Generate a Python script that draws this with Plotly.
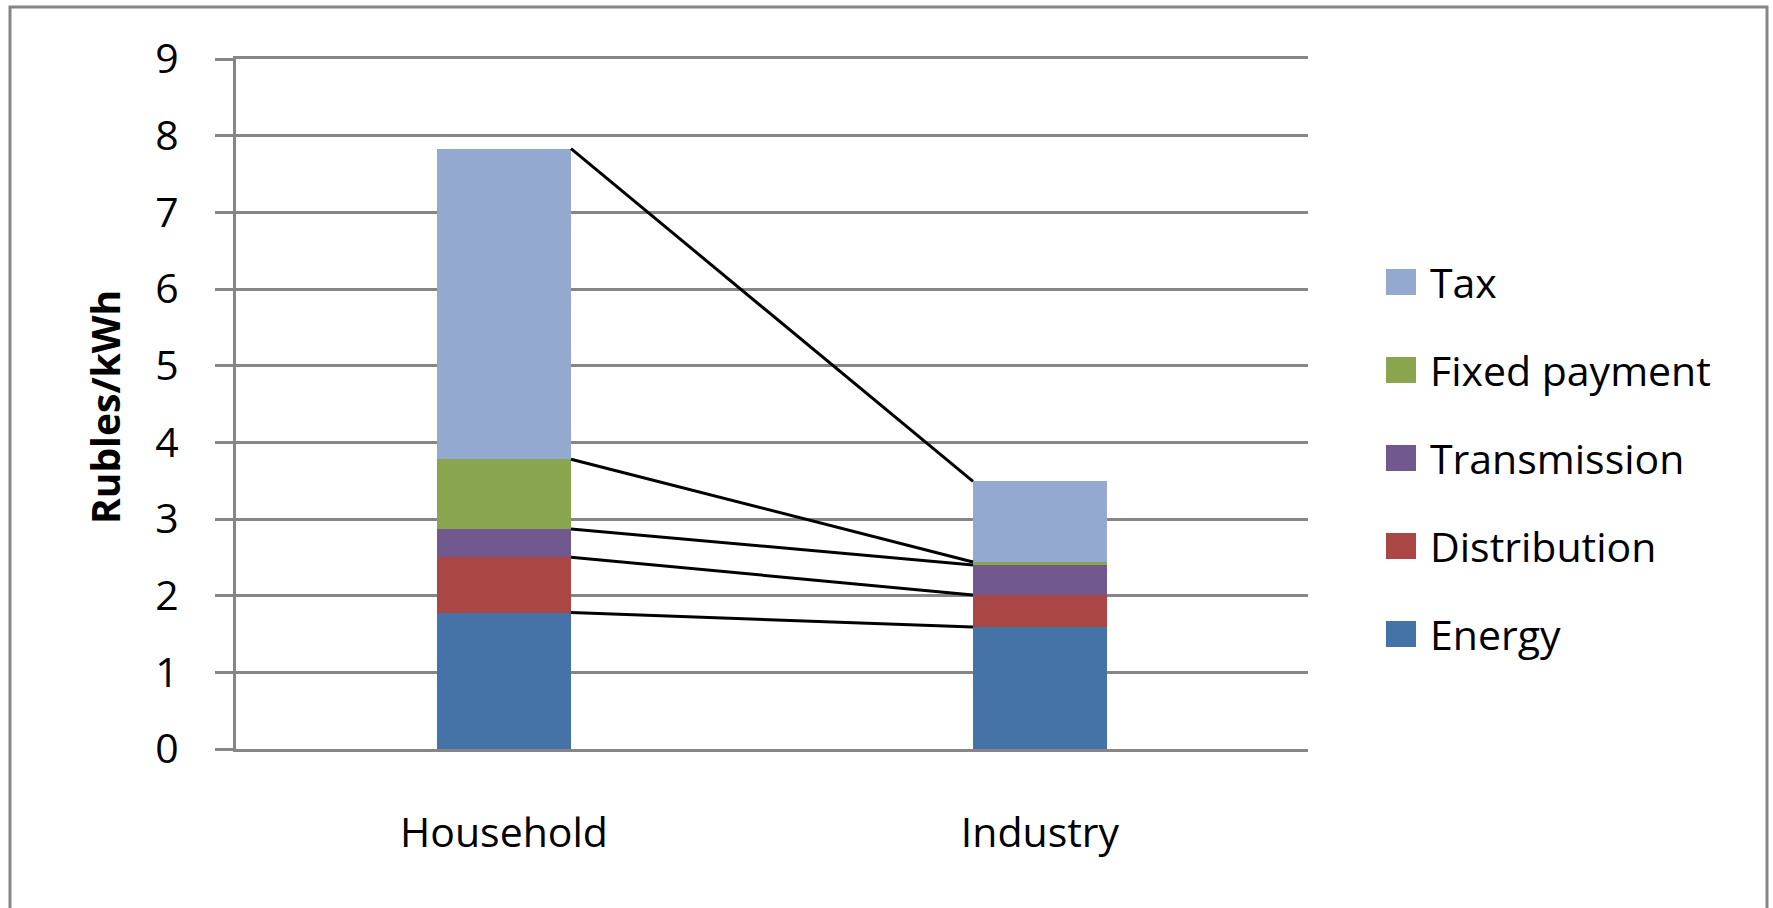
import plotly.graph_objects as go
import numpy as np

categories = ["Household", "Industry"]
series_names = ["Energy", "Distribution", "Transmission", "Fixed payment", "Tax"]
energy = [1.78, 1.59]
distribution = [0.72, 0.42]
transmission = [0.37, 0.39]
fixed_payment = [0.91, 0.04]
tax = [4.05, 1.05]
colors = ["#4572A7", "#AA4643", "#71588F", "#89A54E", "#93A9CF"]
y_ticks = [0, 1, 2, 3, 4, 5, 6, 7, 8, 9]

series_values = [energy, distribution, transmission, fixed_payment, tax]

W, H = 1773, 908
L, R, T, B = 236, 465, 59, 159
PW, PH = W - L - R, H - T - B

def px_x(p):
    return (p - L) / PW

def px_y(p):
    return (H - B - p) / PH

FONT = "Open Sans"
GRID = "#868686"
BAR_W = 0.25
xpos = list(range(len(categories)))

fig = go.Figure()
for name, vals, col in zip(series_names, series_values, colors):
    fig.add_trace(go.Bar(x=xpos, y=vals, name=name, width=BAR_W,
                         marker=dict(color=col, line=dict(width=0)),
                         showlegend=False))

# connector lines between stack tops
cum = np.cumsum(np.array(series_values), axis=0)
for k in range(cum.shape[0]):
    fig.add_trace(go.Scatter(x=[xpos[0] + BAR_W / 2, xpos[1] - BAR_W / 2],
                             y=[cum[k, 0], cum[k, 1]], mode="lines",
                             line=dict(color="black", width=3),
                             showlegend=False, hoverinfo="skip"))

shapes = []
annotations = []
# outer chart frame (bottom edge off-page)
shapes.append(dict(type="rect", xref="paper", yref="paper",
                   x0=px_x(10), x1=px_x(1767), y0=px_y(H + 20), y1=px_y(7),
                   line=dict(color=GRID, width=3), fillcolor="rgba(0,0,0,0)", layer="below"))

# legend (reversed order: Tax on top)
leg_y0, leg_dy = 282, 88
for i, (name, col) in enumerate(zip(series_names[::-1], colors[::-1])):
    cy = leg_y0 + i * leg_dy
    shapes.append(dict(type="rect", xref="paper", yref="paper",
                       x0=px_x(1386), x1=px_x(1416), y0=px_y(cy + 13), y1=px_y(cy - 13),
                       line=dict(width=0), fillcolor=col))
    annotations.append(dict(xref="paper", yref="paper", x=px_x(1428), y=px_y(cy),
                            xanchor="left", yanchor="middle", text=name, showarrow=False,
                            font=dict(family=FONT, size=41, color="black")))

annotations.append(dict(xref="paper", yref="paper", x=px_x(104), y=px_y(407),
                        xanchor="center", yanchor="middle", text="<b>Rubles/kWh</b>",
                        textangle=-90, showarrow=False,
                        font=dict(family=FONT, size=39, color="black")))

fig.update_layout(
    width=W, height=H,
    margin=dict(l=L, r=R, t=T, b=B),
    barmode="stack",
    paper_bgcolor="white", plot_bgcolor="white",
    showlegend=False,
    shapes=shapes, annotations=annotations,
    font=dict(family=FONT, size=40, color="black"),
    xaxis=dict(range=[-0.5, 1.5], tickvals=xpos, ticktext=categories,
               showgrid=False, zeroline=False, showline=True, mirror=True,
               linecolor=GRID, linewidth=3, ticks="",
               ticklabelstandoff=46, tickfont=dict(family=FONT, size=41, color="black"),
               fixedrange=True),
    yaxis=dict(range=[0, 9], tickvals=y_ticks, ticktext=[str(v) for v in y_ticks],
               showgrid=True, gridcolor=GRID, gridwidth=3,
               zeroline=False, showline=True, linecolor=GRID, linewidth=3,
               ticks="outside", ticklen=18, tickwidth=3, tickcolor=GRID,
               ticklabelstandoff=28, tickfont=dict(family=FONT, size=41, color="black"),
               fixedrange=True),
)

fig.write_html("out.html")
